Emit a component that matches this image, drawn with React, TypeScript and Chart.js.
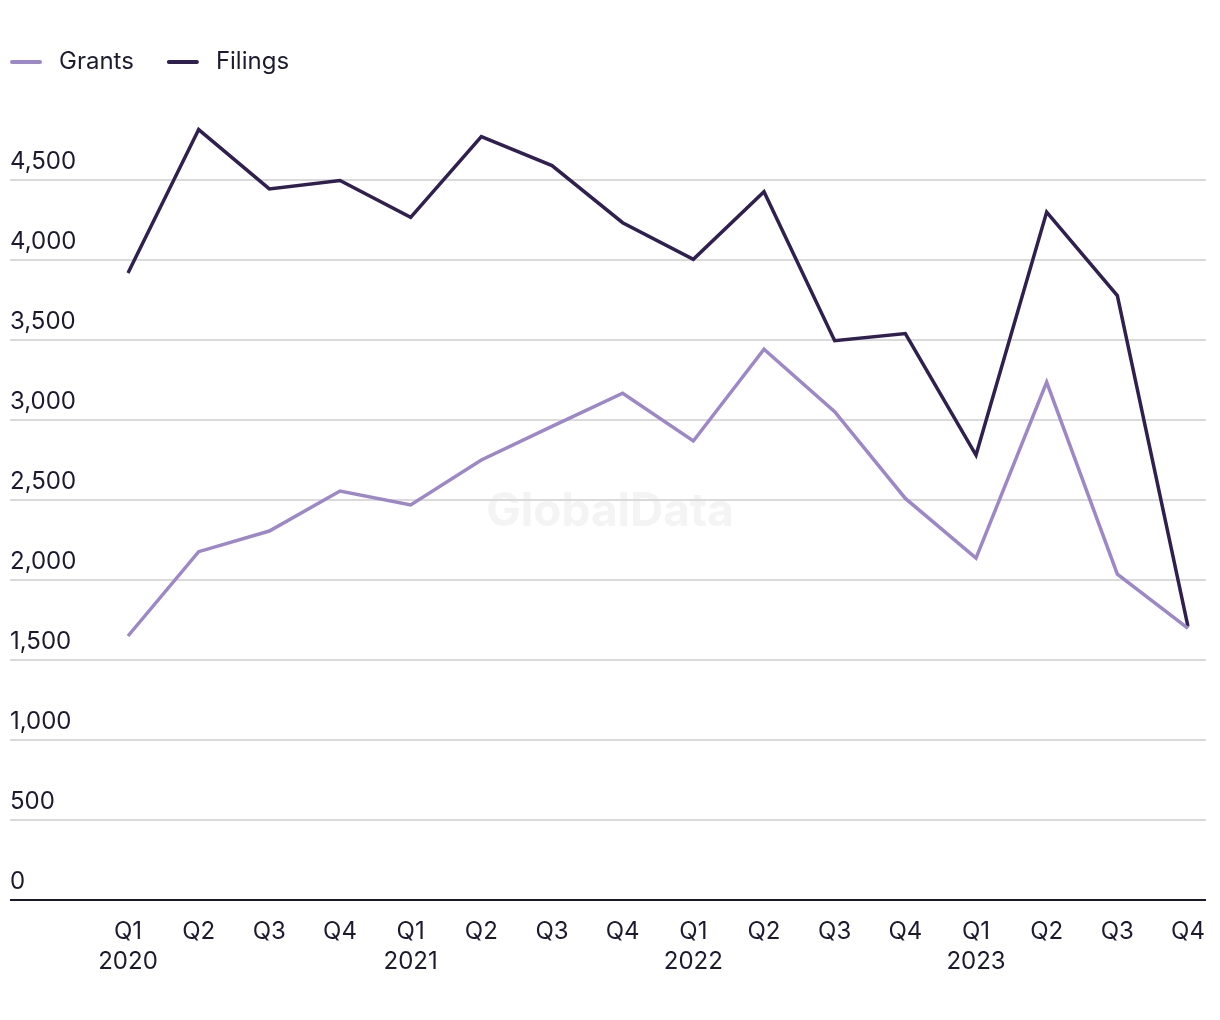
import React, { useEffect, useRef } from "react";
import { Chart, registerables } from "chart.js";

Chart.register(...registerables);

const quarters: (string | string[])[] = [
  ["Q1", "2020"], "Q2", "Q3", "Q4",
  ["Q1", "2021"], "Q2", "Q3", "Q4",
  ["Q1", "2022"], "Q2", "Q3", "Q4",
  ["Q1", "2023"], "Q2", "Q3", "Q4",
];

const grants = [1650, 2177, 2306, 2556, 2469, 2750, 2960, 3167, 2869, 3442, 3052, 2510, 2137, 3237, 2037, 1698];
const filings = [3919, 4815, 4444, 4497, 4267, 4771, 4590, 4233, 4004, 4427, 3496, 3540, 2781, 4300, 3778, 1708];

const yTicks = [0, 500, 1000, 1500, 2000, 2500, 3000, 3500, 4000, 4500];
const seriesNames = ["Grants", "Filings"];
const seriesColors = ["#9c88c6", "#30204f"];

const FONT = "Inter, 'Noto Sans', sans-serif";
const TEXT = "#1c1b2e";

const customPlugin = {
  id: "custom",
  beforeDatasetsDraw(chart: any) {
    const { ctx, chartArea, scales } = chart;
    const y = scales.y;
    const left = y.left;
    const right = chartArea.right + 18;
    ctx.save();
    // watermark
    ctx.fillStyle = "#f4f4f4";
    ctx.font = `bold 46px ${FONT}`;
    ctx.textAlign = "center";
    ctx.textBaseline = "middle";
    ctx.fillText("GlobalData", 602, 504);
    // grid lines
    ctx.strokeStyle = "#dadada";
    ctx.lineWidth = 2;
    for (const v of yTicks) {
      if (v === 0) continue;
      const py = Math.round(y.getPixelForValue(v));
      ctx.beginPath();
      ctx.moveTo(left, py);
      ctx.lineTo(right, py);
      ctx.stroke();
    }
    // base axis line
    const p0 = Math.round(y.getPixelForValue(0));
    ctx.strokeStyle = "#1a1a2e";
    ctx.lineWidth = 2;
    ctx.beginPath();
    ctx.moveTo(left, p0);
    ctx.lineTo(right, p0);
    ctx.stroke();
    ctx.restore();
  },
  afterDraw(chart: any) {
    const { ctx } = chart;
    ctx.save();
    ctx.font = `24px ${FONT}`;
    ctx.textBaseline = "middle";
    ctx.textAlign = "left";
    let x = 2;
    const cy = 54;
    chart.data.datasets.forEach((ds: any) => {
      ctx.strokeStyle = ds.borderColor;
      ctx.lineWidth = 4;
      ctx.lineCap = "round";
      ctx.beginPath();
      ctx.moveTo(x + 2, cy);
      ctx.lineTo(x + 30, cy);
      ctx.stroke();
      ctx.fillStyle = TEXT;
      const tx = x + 49;
      ctx.fillText(ds.label, tx, cy);
      x = tx + ctx.measureText(ds.label).width + 33;
    });
    ctx.restore();
  },
};

export default function App() {
  const ref = useRef<HTMLCanvasElement | null>(null);
  useEffect(() => {
    if (!ref.current) return;
    const chart = new Chart(ref.current, {
      type: "line",
      data: {
        labels: quarters,
        datasets: [
          {
            label: seriesNames[0],
            data: grants,
            borderColor: seriesColors[0],
            backgroundColor: seriesColors[0],
            borderWidth: 3.5,
            pointRadius: 0,
            tension: 0,
            borderJoinStyle: "miter",
          },
          {
            label: seriesNames[1],
            data: filings,
            borderColor: seriesColors[1],
            backgroundColor: seriesColors[1],
            borderWidth: 3.5,
            pointRadius: 0,
            tension: 0,
            borderJoinStyle: "miter",
          },
        ],
      },
      options: {
        responsive: true,
        maintainAspectRatio: false,
        animation: false,
        layout: { padding: { left: 2, right: 24, top: 92, bottom: 0 } },
        plugins: {
          legend: { display: false },
          tooltip: { enabled: false },
        },
        scales: {
          x: {
            offset: false,
            grid: { display: false, drawTicks: true, tickLength: 17 },
            border: { display: false },
            ticks: {
              color: TEXT,
              font: { family: FONT, size: 24, lineHeight: 1.25 },
              padding: 0,
              maxRotation: 0,
              autoSkip: false,
            },
            afterFit: (s: any) => {
              s.height = 112;
            },
          },
          y: {
            min: 0,
            max: 5000,
            grid: { display: false, drawTicks: false },
            border: { display: false },
            afterBuildTicks: (s: any) => {
              s.ticks = yTicks.map((v) => ({ value: v }));
            },
            ticks: {
              color: TEXT,
              font: { family: FONT, size: 24 },
              crossAlign: "far",
              labelOffset: -18,
              callback: (v: any) => Number(v).toLocaleString("en-US"),
            },
            afterFit: (s: any) => {
              s.width = 118;
            },
          },
        },
      },
      plugins: [customPlugin],
    });
    return () => chart.destroy();
  }, []);
  return (
    <div style={{ width: 1204, height: 1004, position: "relative" }}>
      <canvas ref={ref} />
    </div>
  );
}
